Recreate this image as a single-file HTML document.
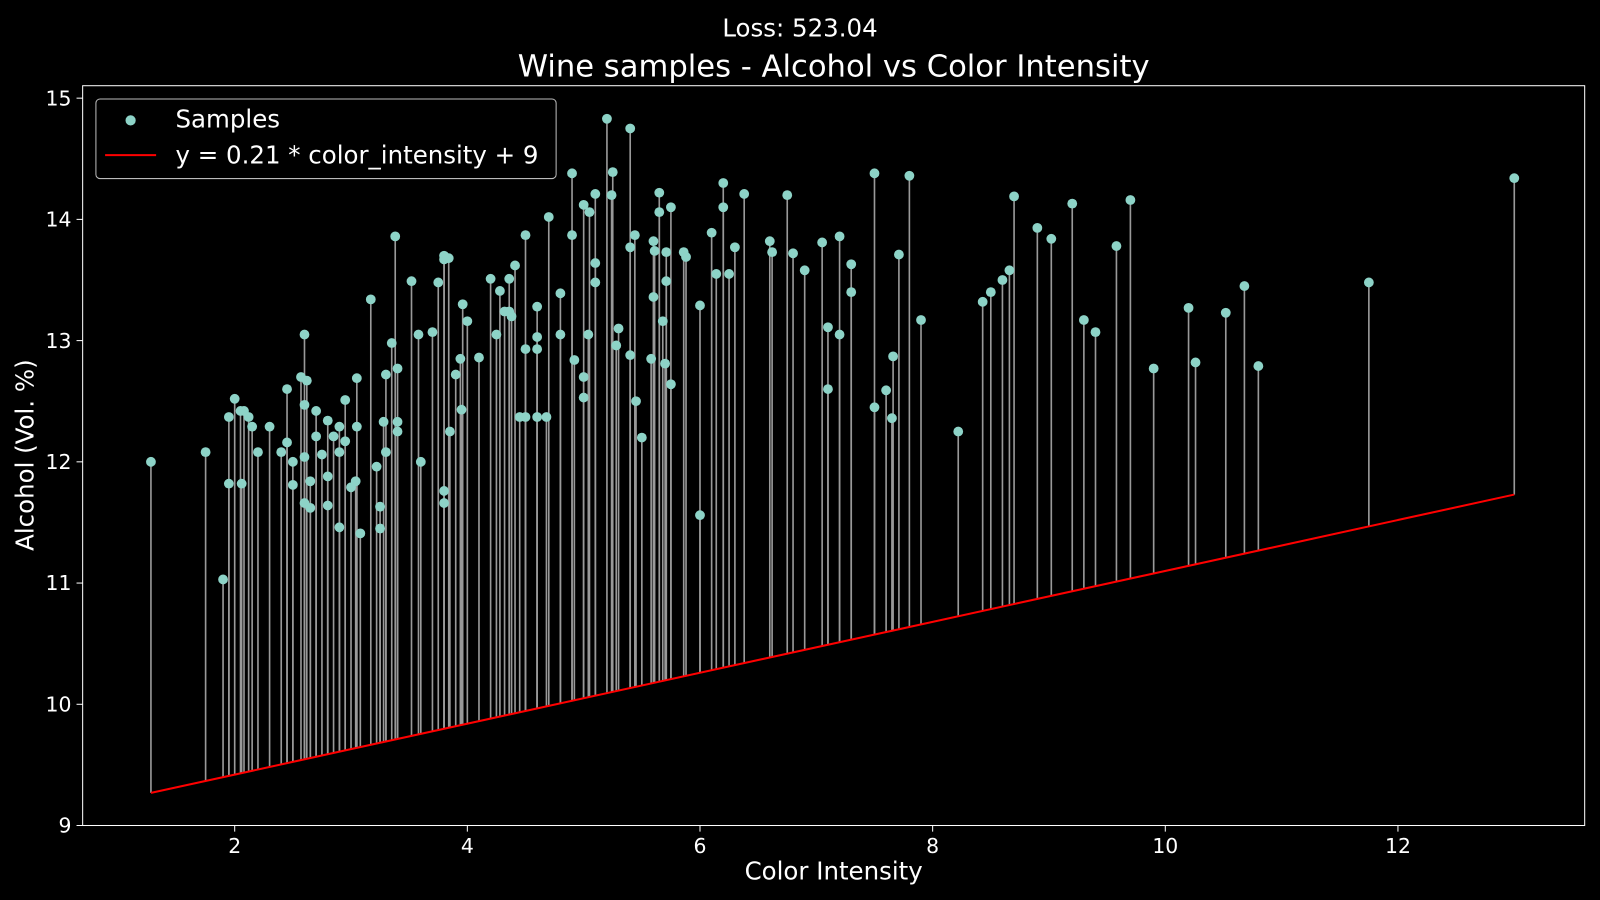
<!DOCTYPE html>
<html><head><meta charset="utf-8"><style>
html,body{margin:0;padding:0;background:#000;}
svg{display:block;font-family:"DejaVu Sans","Liberation Sans",sans-serif;}
</style></head><body>
<svg id="chart" width="1600" height="900" viewBox="0 0 1600 900">
<rect width="1600" height="900" fill="#000"/>
<g transform="scale(1.0204)">
<text x="784" y="36" fill="#fff" font-size="24" text-anchor="middle">Loss: 523.04</text>
<text x="817" y="75" fill="#fff" font-size="30" text-anchor="middle">Wine samples - Alcohol vs Color Intensity</text>
<g id="stems"></g>
<g id="fitline"></g>
<g id="points"></g>
<rect x="81" y="84" width="1472" height="725" fill="none" stroke="#fff" stroke-width="1"/>
<g id="xticks"></g>
<g id="yticks"></g>
<text x="817" y="862" fill="#fff" font-size="24" text-anchor="middle">Color Intensity</text>
<text x="0" y="0" fill="#fff" font-size="24" text-anchor="middle" transform="translate(33,446) rotate(-90)">Alcohol (Vol. %)</text>
<g>
<rect x="94" y="97" width="451" height="78" rx="4" fill="#000" stroke="#bbb" stroke-width="1"/>
<circle cx="128" cy="118" r="5" fill="#8dd3c7"/>
<text x="172" y="125" fill="#fff" font-size="24">Samples</text>
<line x1="103" y1="152" x2="153" y2="152" stroke="#ff0000" stroke-width="2"/>
<text x="172" y="160" fill="#fff" font-size="24">y = 0.21 * color_intensity + 9</text>
</g>
</g>
</svg>
<script>
const colorIntensity = [1.28,1.75,1.9,1.95,1.95,2.0,2.05,2.06,2.08,2.12,2.15,2.2,2.3,2.4,2.45,2.45,2.5,2.5,2.57,2.6,2.6,2.6,2.6,2.62,2.65,2.65,2.7,2.7,2.75,2.8,2.8,2.8,2.85,2.9,2.9,2.9,2.95,2.95,3.0,3.04,3.05,3.05,3.08,3.17,3.22,3.25,3.25,3.28,3.3,3.3,3.35,3.38,3.4,3.4,3.4,3.52,3.58,3.6,3.7,3.75,3.8,3.8,3.8,3.8,3.84,3.85,3.9,3.94,3.95,3.96,4.0,4.1,4.2,4.25,4.28,4.32,4.36,4.36,4.38,4.41,4.45,4.5,4.5,4.5,4.6,4.6,4.6,4.6,4.68,4.7,4.8,4.8,4.9,4.9,4.92,5.0,5.0,5.0,5.04,5.05,5.1,5.1,5.1,5.2,5.24,5.25,5.28,5.3,5.4,5.4,5.4,5.44,5.45,5.5,5.58,5.6,5.6,5.61,5.65,5.65,5.68,5.7,5.71,5.71,5.75,5.75,5.86,5.88,6.0,6.0,6.1,6.14,6.2,6.2,6.25,6.3,6.38,6.6,6.62,6.75,6.8,6.9,7.05,7.1,7.1,7.2,7.2,7.3,7.3,7.5,7.5,7.6,7.65,7.66,7.71,7.8,7.9,8.22,8.43,8.5,8.6,8.66,8.7,8.9,9.02,9.2,9.3,9.4,9.58,9.7,9.9,10.2,10.26,10.52,10.68,10.8,11.75,13.0];
const alcohol = [12.0,12.08,11.03,12.37,11.82,12.52,12.42,11.82,12.42,12.37,12.29,12.08,12.29,12.08,12.6,12.16,12.0,11.81,12.7,13.05,12.47,12.04,11.66,12.67,11.84,11.62,12.42,12.21,12.06,12.34,11.88,11.64,12.21,12.29,12.08,11.46,12.51,12.17,11.79,11.84,12.29,12.69,11.41,13.34,11.96,11.63,11.45,12.33,12.72,12.08,12.98,13.86,12.77,12.25,12.33,13.49,13.05,12.0,13.07,13.48,11.76,11.66,13.7,13.67,13.68,12.25,12.72,12.85,12.43,13.3,13.16,12.86,13.51,13.05,13.41,13.24,13.51,13.24,13.2,13.62,12.37,12.93,13.87,12.37,13.28,13.03,12.93,12.37,12.37,14.02,13.39,13.05,13.87,14.38,12.84,12.7,12.53,14.12,13.05,14.06,13.64,13.48,14.21,14.83,14.2,14.39,12.96,13.1,14.75,13.77,12.88,13.87,12.5,12.2,12.85,13.82,13.36,13.74,14.22,14.06,13.16,12.81,13.73,13.49,14.1,12.64,13.73,13.69,13.29,11.56,13.89,13.55,14.3,14.1,13.55,13.77,14.21,13.82,13.73,14.2,13.72,13.58,13.81,13.11,12.6,13.05,13.86,13.63,13.4,14.38,12.45,12.59,12.36,12.87,13.71,14.36,13.17,12.25,13.32,13.4,13.5,13.58,14.19,13.93,13.84,14.13,13.17,13.07,13.78,14.16,12.77,13.27,12.82,13.23,13.45,12.79,13.48,14.34];
const slope = [0.21];
const intercept = [9];
const xTickLabels = [2,4,6,8,10,12];
const yTickLabels = [9,10,11,12,13,14,15];

const NS = 'http://www.w3.org/2000/svg';
function sx(v){ return 2 + v*114; }
function sy(v){ return 809 - (v-9)*118.8; }
function mk(tag, attrs, parent){
  const e = document.createElementNS(NS, tag);
  for (const k in attrs) e.setAttribute(k, attrs[k]);
  parent.appendChild(e);
  return e;
}
const stems = document.getElementById('stems');
const pts = document.getElementById('points');
const fl = document.getElementById('fitline');
const m = slope[0], b = intercept[0];
for (let i=0;i<colorIntensity.length;i++){
  const x = colorIntensity[i], y = alcohol[i];
  const st = mk('line',{x1:sx(x),y1:sy(y),x2:sx(x),y2:sy(m*x+b),stroke:'#999','stroke-width':1.6}, stems);
  
  
}
const xmin = Math.min(...colorIntensity), xmax = Math.max(...colorIntensity);
const ln = mk('line',{x1:sx(xmin),y1:sy(m*xmin+b),x2:sx(xmax),y2:sy(m*xmax+b),stroke:'#ff0000','stroke-width':2}, fl);


for (let i=0;i<colorIntensity.length;i++){
  const c = mk('circle',{cx:sx(colorIntensity[i]),cy:sy(alcohol[i]),r:4.8,fill:'#8dd3c7'}, pts);
  
  
}
const xt = document.getElementById('xticks');
xTickLabels.forEach(v=>{
  const t = mk('line',{x1:sx(v),y1:809,x2:sx(v),y2:815,stroke:'#fff','stroke-width':1}, xt);
  
  
  const l = mk('text',{x:sx(v),y:836,fill:'#fff','font-size':20,'text-anchor':'middle'}, xt);
  l.textContent = v;
  
  
});
const yt = document.getElementById('yticks');
yTickLabels.forEach(v=>{
  const t = mk('line',{x1:75,y1:sy(v),x2:81,y2:sy(v),stroke:'#fff','stroke-width':1}, yt);
  
  
  const l = mk('text',{x:70,y:sy(v)+7,fill:'#fff','font-size':20,'text-anchor':'end'}, yt);
  l.textContent = v;
  
  
});
</script>
</body></html>
